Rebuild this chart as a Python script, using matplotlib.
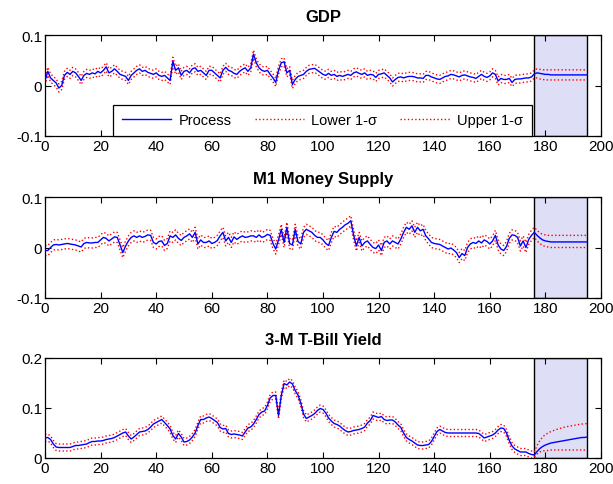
import numpy as np
import matplotlib
matplotlib.use("Agg")
import matplotlib.pyplot as plt

plt.rcParams['font.family'] = ['Liberation Sans', 'DejaVu Sans']

# ---------------- data ----------------
titles = ["GDP", "M1 Money Supply", "3-M T-Bill Yield"]

gdp_hist = [0.009, 0.028, 0.015, 0.010, 0.005, -0.005, 0.000, 0.020, 0.026, 0.022,
            0.028, 0.025, 0.018, 0.010, 0.020, 0.024, 0.022, 0.025, 0.023, 0.028,
            0.025, 0.030, 0.037, 0.025, 0.028, 0.033, 0.028, 0.022, 0.020, 0.018,
            0.010, 0.020, 0.025, 0.030, 0.033, 0.028, 0.030, 0.026, 0.024, 0.022,
            0.025, 0.020, 0.018, 0.020, 0.015, 0.010, 0.048, 0.030, 0.035, 0.020,
            0.028, 0.030, 0.025, 0.033, 0.035, 0.028, 0.030, 0.025, 0.020, 0.030,
            0.030, 0.025, 0.020, 0.015, 0.030, 0.036, 0.030, 0.028, 0.024, 0.022,
            0.028, 0.032, 0.035, 0.028, 0.035, 0.062, 0.045, 0.035, 0.030, 0.028,
            0.030, 0.022, 0.015, 0.006, 0.030, 0.045, 0.047, 0.025, 0.030, 0.002,
            0.012, 0.018, 0.020, 0.022, 0.028, 0.032, 0.033, 0.034, 0.030, 0.026,
            0.022, 0.020, 0.024, 0.020, 0.022, 0.018, 0.020, 0.018, 0.020, 0.022,
            0.020, 0.025, 0.027, 0.024, 0.022, 0.025, 0.020, 0.022, 0.021, 0.016,
            0.022, 0.023, 0.025, 0.020, 0.015, 0.007, 0.012, 0.016, 0.017, 0.015,
            0.017, 0.018, 0.018, 0.017, 0.015, 0.015, 0.014, 0.020, 0.020, 0.017,
            0.015, 0.013, 0.012, 0.015, 0.018, 0.019, 0.022, 0.021, 0.019, 0.017,
            0.020, 0.021, 0.019, 0.017, 0.016, 0.014, 0.018, 0.022, 0.018, 0.016,
            0.019, 0.025, 0.022, 0.009, 0.014, 0.012, 0.012, 0.014, 0.006, 0.012,
            0.013, 0.013, 0.014, 0.015, 0.015, 0.017, 0.023]
gdp_fc = [0.023, 0.025, 0.024, 0.023, 0.022, 0.022, 0.021, 0.021, 0.021, 0.021,
          0.021, 0.021, 0.021, 0.021, 0.021, 0.021, 0.021, 0.021, 0.021, 0.021]
gdp_band = 0.008
gdp_fc_up = [0.031, 0.033, 0.032, 0.031, 0.031, 0.031, 0.031, 0.031, 0.031, 0.031,
             0.031, 0.031, 0.031, 0.031, 0.031, 0.031, 0.031, 0.031, 0.031, 0.031]
gdp_fc_lo = [0.015, 0.015, 0.013, 0.012, 0.011, 0.011, 0.011, 0.011, 0.011, 0.011,
             0.011, 0.011, 0.011, 0.011, 0.011, 0.011, 0.011, 0.011, 0.011, 0.011]

m1_hist = [-0.006, -0.006, 0.000, 0.005, 0.006, 0.005, 0.006, 0.007, 0.008, 0.007,
           0.006, 0.005, 0.003, 0.001, 0.008, 0.010, 0.009, 0.009, 0.010, 0.010,
           0.015, 0.020, 0.018, 0.013, 0.017, 0.021, 0.020, 0.005, -0.010, 0.003,
           0.013, 0.020, 0.023, 0.020, 0.023, 0.020, 0.022, 0.025, 0.024, 0.010,
           0.007, 0.012, 0.013, 0.004, 0.008, 0.023, 0.020, 0.025, 0.018, 0.014,
           0.020, 0.023, 0.027, 0.020, 0.030, 0.007, 0.015, 0.010, 0.010, 0.013,
           0.008, 0.010, 0.014, 0.023, 0.030, 0.013, 0.020, 0.010, 0.021, 0.016,
           0.020, 0.023, 0.020, 0.021, 0.023, 0.023, 0.020, 0.025, 0.020, 0.022,
           0.026, 0.024, 0.008, -0.003, 0.015, 0.036, 0.010, 0.040, 0.008, 0.005,
           0.036, 0.012, 0.007, 0.030, 0.036, 0.033, 0.030, 0.024, 0.020, 0.020,
           0.015, 0.008, 0.004, 0.020, 0.032, 0.030, 0.036, 0.040, 0.045, 0.048,
           0.053, 0.025, 0.003, 0.020, 0.003, 0.010, 0.013, 0.006, 0.000, -0.002,
           0.005, -0.006, 0.010, 0.013, 0.007, 0.013, 0.010, 0.007, 0.017, 0.030,
           0.040, 0.036, 0.043, 0.030, 0.040, 0.033, 0.036, 0.023, 0.017, 0.010,
           0.008, 0.007, 0.006, 0.003, 0.000, -0.003, -0.001, -0.005, -0.010, -0.020,
           -0.012, -0.016, 0.000, 0.007, 0.010, 0.008, 0.013, 0.009, 0.015, 0.012,
           0.007, 0.013, 0.024, 0.005, -0.003, -0.006, 0.002, 0.018, 0.025, 0.024,
           0.020, 0.003, 0.013, 0.000, 0.016, 0.024, 0.030]
m1_fc = [0.030, 0.024, 0.019, 0.015, 0.013, 0.012, 0.011, 0.011, 0.011, 0.011,
         0.011, 0.011, 0.011, 0.011, 0.011, 0.011, 0.011, 0.011, 0.011, 0.011]
m1_band = 0.010
m1_fc_up = [0.040, 0.034, 0.029, 0.026, 0.025, 0.024, 0.024, 0.024, 0.024, 0.024,
            0.024, 0.024, 0.024, 0.024, 0.024, 0.024, 0.024, 0.024, 0.024, 0.024]
m1_fc_lo = [0.020, 0.013, 0.008, 0.004, 0.002, 0.001, 0.000, 0.000, 0.000, 0.000,
            0.000, 0.000, 0.000, 0.000, 0.000, 0.000, 0.000, 0.000, 0.000, 0.000]

tb_hist = [0.040, 0.041, 0.037, 0.028, 0.022, 0.021, 0.021, 0.021, 0.021, 0.021,
           0.023, 0.025, 0.025, 0.026, 0.027, 0.028, 0.031, 0.033, 0.033, 0.034,
           0.034, 0.035, 0.037, 0.038, 0.039, 0.041, 0.044, 0.047, 0.050, 0.052,
           0.044, 0.038, 0.042, 0.047, 0.052, 0.053, 0.054, 0.057, 0.062, 0.068,
           0.071, 0.074, 0.077, 0.071, 0.065, 0.058, 0.045, 0.038, 0.049, 0.042,
           0.032, 0.033, 0.036, 0.042, 0.050, 0.065, 0.077, 0.077, 0.080, 0.082,
           0.079, 0.075, 0.071, 0.061, 0.058, 0.059, 0.049, 0.047, 0.048, 0.047,
           0.046, 0.044, 0.052, 0.060, 0.062, 0.068, 0.077, 0.087, 0.092, 0.094,
           0.105, 0.120, 0.125, 0.125, 0.085, 0.125, 0.149, 0.146, 0.152, 0.148,
           0.135, 0.126, 0.110, 0.088, 0.079, 0.082, 0.085, 0.089, 0.095, 0.099,
           0.097, 0.090, 0.080, 0.074, 0.069, 0.067, 0.064, 0.059, 0.055, 0.052,
           0.053, 0.055, 0.056, 0.057, 0.059, 0.062, 0.070, 0.075, 0.085, 0.083,
           0.081, 0.083, 0.077, 0.075, 0.076, 0.076, 0.072, 0.066, 0.061, 0.050,
           0.041, 0.037, 0.034, 0.030, 0.026, 0.025, 0.025, 0.026, 0.027, 0.033,
           0.043, 0.053, 0.057, 0.054, 0.051, 0.050, 0.050, 0.050, 0.050, 0.050,
           0.050, 0.050, 0.050, 0.050, 0.050, 0.050, 0.049, 0.045, 0.040, 0.042,
           0.044, 0.046, 0.050, 0.056, 0.060, 0.059, 0.050, 0.035, 0.024, 0.018,
           0.015, 0.012, 0.012, 0.012, 0.009, 0.007, 0.006]
tb_fc = [0.006, 0.013, 0.019, 0.023, 0.026, 0.028, 0.030, 0.031, 0.032, 0.033,
         0.034, 0.035, 0.036, 0.037, 0.038, 0.039, 0.040, 0.041, 0.041, 0.042]
tb_band = 0.007
tb_fc_up = [0.012, 0.025, 0.035, 0.042, 0.047, 0.050, 0.053, 0.055, 0.057, 0.059,
            0.060, 0.062, 0.063, 0.064, 0.065, 0.066, 0.067, 0.068, 0.068, 0.069]
tb_fc_lo = [0.002, 0.008, 0.012, 0.014, 0.015, 0.015, 0.016, 0.016, 0.016, 0.016,
            0.016, 0.016, 0.016, 0.016, 0.016, 0.016, 0.016, 0.016, 0.016, 0.016]

fc_start = 176
fc_end = 195
x_ticks = [0, 20, 40, 60, 80, 100, 120, 140, 160, 180, 200]
y_ticks = [[-0.1, 0, 0.1], [-0.1, 0, 0.1], [0, 0.1, 0.2]]
y_ticklabels = [["-0.1", "0", "0.1"], ["-0.1", "0", "0.1"], ["0", "0.1", "0.2"]]
y_lims = [(-0.1, 0.1), (-0.1, 0.1), (0, 0.2)]

series = [
    (gdp_hist, gdp_fc, gdp_band, gdp_fc_up, gdp_fc_lo),
    (m1_hist, m1_fc, m1_band, m1_fc_up, m1_fc_lo),
    (tb_hist, tb_fc, tb_band, tb_fc_up, tb_fc_lo),
]

# ---------------- figure ----------------
fig = plt.figure(figsize=(6.13, 4.85), dpi=100)
W, H = 613, 485
boxes = [(45, 36, 556, 101), (45, 198, 556, 101), (45, 359, 556, 100)]

for i, (hist, fc, band, fc_up, fc_lo) in enumerate(series):
    l, t, w, h = boxes[i]
    ax = fig.add_axes([l / W, 1 - (t + h) / H, w / W, h / H])
    hist = np.array(hist)
    xh = np.arange(len(hist))
    xf = np.arange(fc_start, fc_start + len(fc))
    proc = np.concatenate([hist, np.array(fc)[1:]])
    lower = np.concatenate([hist - band, np.array(fc_lo)[1:]])
    upper = np.concatenate([hist + band, np.array(fc_up)[1:]])
    lower[len(hist) - 1] = fc_lo[0]
    upper[len(hist) - 1] = fc_up[0]
    xx = np.concatenate([xh, xf[1:]])

    ax.axvspan(fc_start, fc_end, facecolor='#dedef7', edgecolor='black',
               linewidth=1.0, zorder=0)
    ax.plot(xx, proc, color='#0000ff', lw=1.0, label='Process', zorder=3)
    ax.plot(xx, lower, color='#ff0000', lw=1.0, ls=':', label='Lower 1-σ', zorder=2)
    ax.plot(xx, upper, color='#ff0000', lw=1.0, ls=':', label='Upper 1-σ', zorder=2)

    ax.set_xlim(0, 200)
    ax.set_ylim(*y_lims[i])
    ax.set_xticks(x_ticks)
    ax.set_yticks(y_ticks[i])
    ax.set_yticklabels(y_ticklabels[i])
    ax.tick_params(direction='in', top=True, right=True, length=4, width=0.8,
                   labelsize=11, pad=2, colors='black')
    for sp in ax.spines.values():
        sp.set_linewidth(0.9)
        sp.set_color('black')
    ax.set_title(titles[i], fontsize=12, fontweight='bold', pad=10)

    if i == 0:
        leg = ax.legend(loc='lower left', bbox_to_anchor=(0.122, 0.0, 0.754, 0.34),
                        mode='expand', ncol=3, fontsize=10.5, frameon=True,
                        fancybox=False, borderaxespad=0.0, handlelength=3.4,
                        borderpad=0.6, columnspacing=1.0, handletextpad=0.5)
        leg.get_frame().set_edgecolor('black')
        leg.get_frame().set_linewidth(0.9)
        leg.get_frame().set_alpha(1.0)

fig.savefig('out.png', dpi=100)
